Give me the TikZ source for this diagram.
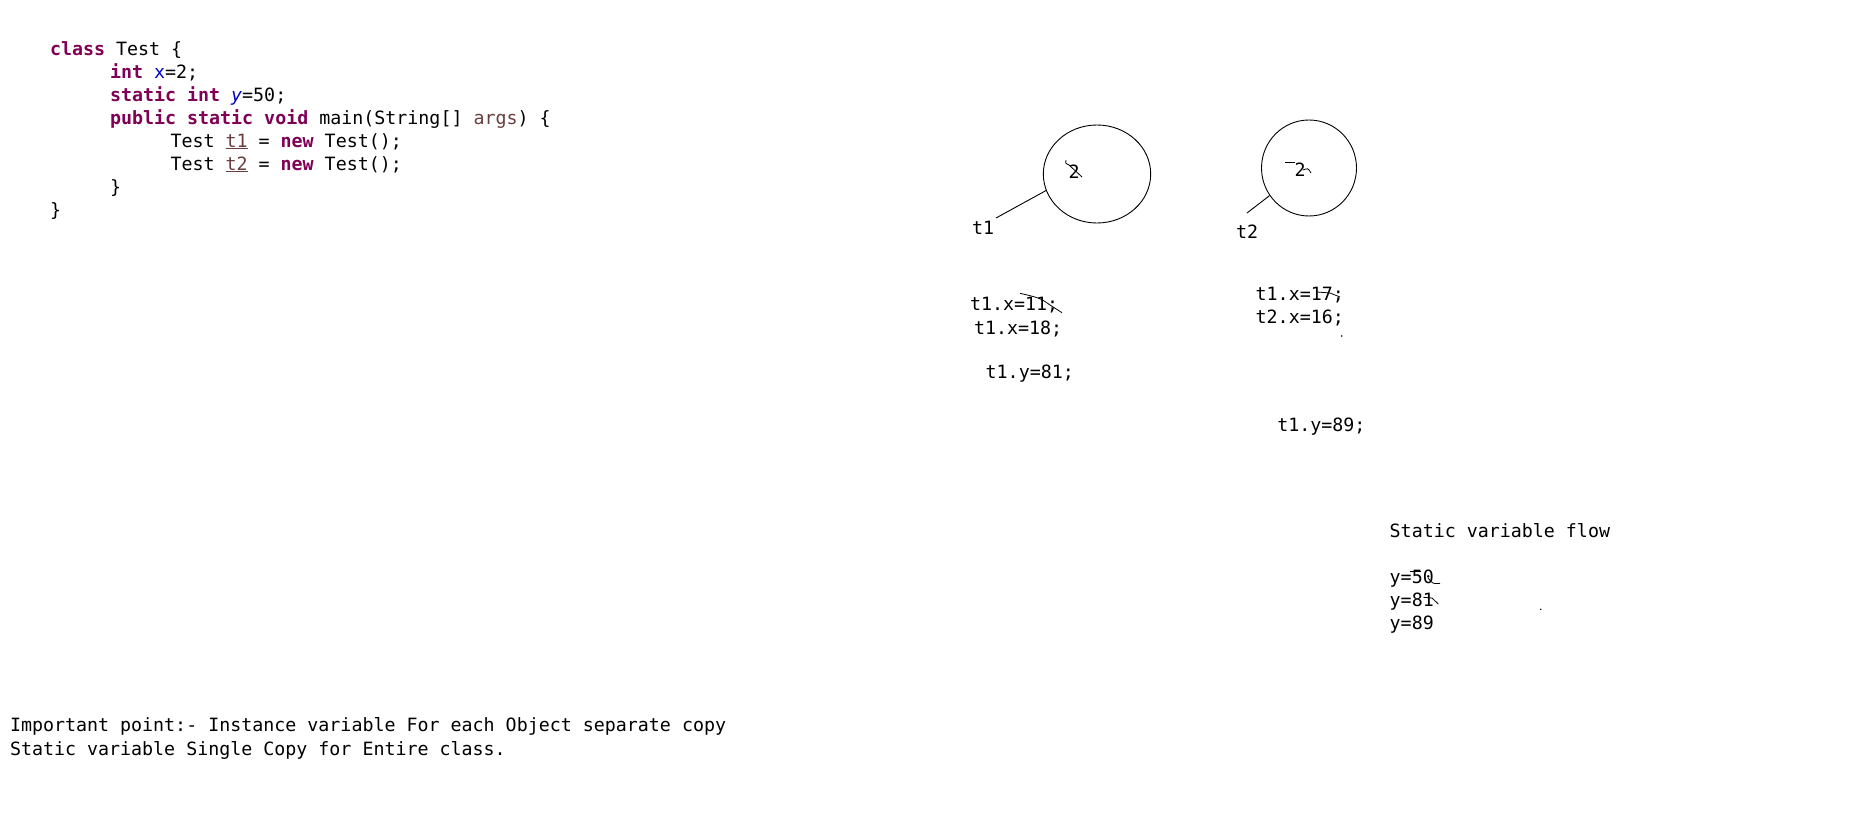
\documentclass[tikz,border=0pt]{standalone}
\usepackage{fontspec}
\setmonofont{DejaVu Sans Mono}
\usetikzlibrary{shapes.geometric}
\definecolor{kwc}{HTML}{7F0055}
\definecolor{fldc}{HTML}{0000C0}
\definecolor{locc}{HTML}{6A3E3E}
\newcommand{\kw}[1]{\textcolor{kwc}{\textbf{#1}}}
\newcommand{\fld}[1]{\textcolor{fldc}{#1}}
\newcommand{\loc}[1]{\textcolor{locc}{\underline{#1}}}
\tikzset{
  txt/.style={anchor=base west, inner sep=0pt, outer sep=0pt, font=\ttfamily\fontsize{18.3}{23}\selectfont},
  obj/.style={ellipse, draw, line width=0.9pt, inner sep=0pt},
  val/.style={inner sep=0pt, font=\ttfamily\fontsize{18.3}{23}\selectfont},
  scrib/.style={line width=0.8pt},
  ref/.style={line width=0.9pt}
}
\begin{document}
\begin{tikzpicture}[x=1pt,y=-1pt]
\useasboundingbox (0,0) rectangle (1874,829);
% code
\node[txt] (c1) at (50,55.3) {\kw{class} Test \{};
\node[txt] (c2) at (110,78.3) {\kw{int} \fld{x}=2;};
\node[txt] (c3) at (110,101.3) {\kw{static} \kw{int} \fld{\textit{y}}=50;};
\node[txt] (c4) at (110,124.3) {\kw{public} \kw{static} \kw{void} main(String[] \textcolor{locc}{args}) \{};
\node[txt] (c5) at (170.5,147.3) {Test \loc{t1} = \kw{new} Test();};
\node[txt] (c6) at (170.5,170.3) {Test \loc{t2} = \kw{new} Test();};
\node[txt] (c7) at (110,193.3) {\}};
\node[txt] (c8) at (50,216.3) {\}};
% objects
\node[obj, minimum width=107.4pt, minimum height=98pt] (o1) at (1097,174) {};
\node[obj, minimum width=95pt, minimum height=96pt] (o2) at (1309,168) {};
\node[val] (v1) at (1074,172) {2};
\node[val] (v2) at (1300,170) {2};
\draw[scrib] (1066,160) .. controls (1065,163) .. (1069,165) -- (1082,177);
\draw[scrib] (1285,162.3) -- (1295,162.3);
\draw[scrib] (1303,170) .. controls (1308,168) .. (1311,173);
% references
\node[txt] (t1) at (972,235) {t1};
\node[txt] (t2) at (1236,238) {t2};
\coordinate (r1) at (996,218);
\coordinate (r2) at (1247,213);
\draw[ref] (r1) -- (o1.198);
\draw[ref] (r2) -- (o2.215);
% assignments
\node[txt] (a1) at (970,310) {t1.x=11;};
\node[txt] (a2) at (974,334.3) {t1.x=18;};
\node[txt] (a3) at (985.7,378.3) {t1.y=81;};
\node[txt] (b1) at (1255.7,300) {t1.x=17;};
\node[txt] (b2) at (1255.7,323.3) {t2.x=16;};
\node[txt] (b3) at (1277.3,431.7) {t1.y=89;};
\draw[scrib] (1020,293.3) .. controls (1040,298) .. (1050,305) -- (1062,312.7);
\draw[scrib] (1317,292) -- (1330,293) -- (1340,297);
\fill (1341.7,336) circle (0.8pt);
% static flow
\node[txt] (s0) at (1389.7,537.3) {Static variable flow};
\node[txt] (s1) at (1389.7,583.7) {y=50};
\node[txt] (s2) at (1389.7,606.7) {y=81};
\node[txt] (s3) at (1389.7,629.5) {y=89};
\draw[scrib] (1410,571.7) -- (1421,571.7);
\draw[scrib] (1428,578) .. controls (1433,584) .. (1440,583.3);
\draw[scrib] (1423.3,597.3) -- (1432,598) -- (1438.3,604);
\fill (1540.7,609.3) circle (0.8pt);
% notes
\node[txt] (n1) at (10,731) {Important point:- Instance variable For each Object separate copy};
\node[txt] (n2) at (10,755) {Static variable Single Copy for Entire class.};
\end{tikzpicture}
\end{document}
